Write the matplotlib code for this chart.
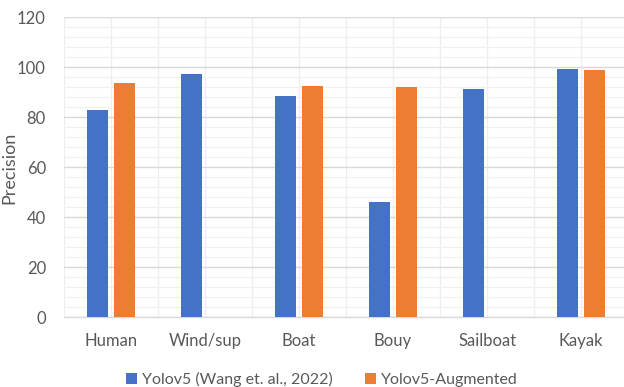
import matplotlib
matplotlib.use("Agg")
import matplotlib.pyplot as plt
import numpy as np
from matplotlib.ticker import MultipleLocator

# precision per object class, two detectors
classes = ["Human", "Wind/sup", "Boat", "Bouy", "Sailboat", "Kayak"]
yolov5_wang = [83, 97.3, 88.7, 46.3, 91.5, 99.2]
yolov5_aug = [93.7, 0, 92.5, 92.3, 0, 98.8]
series_names = ["Yolov5 (Wang et. al., 2022)", "Yolov5-Augmented"]

BLUE = "#4472C4"
ORANGE = "#ED7D31"
TEXT = "#595959"

plt.rcParams["font.family"] = ["Lato", "DejaVu Sans"]

fig = plt.figure(figsize=(6.24, 3.87), dpi=100)
ax = fig.add_axes([0.1026, 0.180, 0.904, 0.775])

x = np.arange(len(classes))
w = 0.222
off = 0.145
ax.bar(x - off, yolov5_wang, width=w, color=BLUE, label=series_names[0], zorder=3)
ax.bar(x + off, yolov5_aug, width=w, color=ORANGE, label=series_names[1], zorder=3)

ax.set_xlim(-0.5, len(classes) - 0.5)
ax.set_ylim(0, 120)
ax.yaxis.set_major_locator(MultipleLocator(20))
ax.yaxis.set_minor_locator(MultipleLocator(4))
ax.set_xticks(x)
ax.set_xticklabels(classes)
ax.set_xticks(np.arange(-0.5, len(classes), 1.0), minor=True)

# light grid: major horizontals darker, minor lines and verticals faint
ax.grid(axis="y", which="major", color="#D9D9D9", linewidth=1.0, zorder=0)
ax.grid(axis="y", which="minor", color="#F0F0F0", linewidth=0.9, zorder=0)
ax.grid(axis="x", which="both", color="#EEEEEE", linewidth=0.9, zorder=0)

for s in ["top", "right", "left"]:
    ax.spines[s].set_visible(False)
ax.spines["bottom"].set_color("#D9D9D9")
ax.spines["bottom"].set_linewidth(1.0)

ax.tick_params(axis="both", which="both", length=0, colors=TEXT, labelsize=12)
ax.tick_params(axis="x", pad=11)
ax.tick_params(axis="y", pad=13)
ax.set_ylabel("Precision", color=TEXT, fontsize=13)
ax.yaxis.set_label_coords(-0.082, 0.5)

# legend centred under the category labels
leg = fig.legend(loc="center", bbox_to_anchor=(0.516, 0.02),
                 ncol=2, frameon=False, fontsize=11.5, handlelength=0.7, handleheight=0.7,
                 handletextpad=0.3, columnspacing=2.0)
for t in leg.get_texts():
    t.set_color(TEXT)

fig.savefig("out.png", dpi=100)
